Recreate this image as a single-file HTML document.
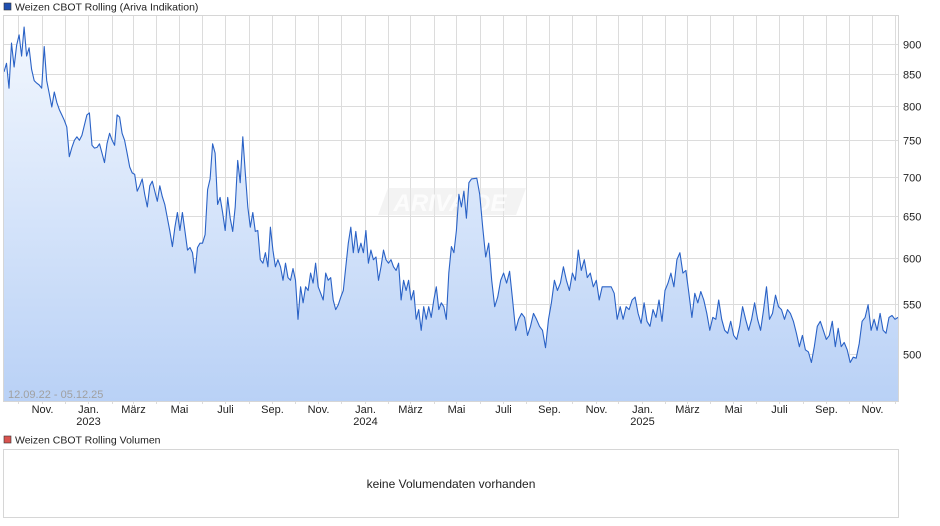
<!DOCTYPE html>
<html><head><meta charset="utf-8"><style>
body{margin:0;background:#fff;font-family:"Liberation Sans",sans-serif;}
svg{display:block}
</style></head><body>
<svg id="chart" width="940" height="526" xmlns="http://www.w3.org/2000/svg">
<defs>
<linearGradient id="fillg" x1="0" y1="0" x2="0" y2="1">
<stop offset="0" stop-color="#f2f7fe"/><stop offset="1" stop-color="#b9d1f6"/>
</linearGradient>
</defs>
<rect x="4" y="3" width="7" height="7" fill="#1f4fb0" stroke="#333" stroke-width="0.6"/>
<text x="15" y="10.5" font-size="10.5" fill="#222">Weizen CBOT Rolling (Ariva Indikation)</text>
<g id="grid"></g>
<g id="wm">
<path d="M388 188 L526 188 L516 215 L378 215 Z" fill="#e4e4e4" opacity="0.45"/>
<text x="450" y="211" font-size="24" font-style="italic" font-weight="bold" fill="#ffffff" opacity="0.8" text-anchor="middle">ARIVA.DE</text>
</g>
<g id="series"></g>
<rect x="3.5" y="15.5" width="895" height="386" fill="none" stroke="#d6d6d6"/>
<text x="8" y="398" font-size="11" fill="#a0a0a0">12.09.22 - 05.12.25</text>
<g id="axes"></g>
<rect x="4" y="436" width="7" height="7" fill="#d9534f" stroke="#333" stroke-width="0.6"/>
<text x="15" y="443.5" font-size="10.5" fill="#222">Weizen CBOT Rolling Volumen</text>
<rect x="3.5" y="449.5" width="895" height="68" fill="#fff" stroke="#d6d6d6"/>
<text x="451" y="488" font-size="12" fill="#222" text-anchor="middle">keine Volumendaten vorhanden</text>
</svg>
<script>
const seg1Start = "2022-09-12";
const seg1End = "2024-05-21";
const seg2Start = "2024-05-28";
const seg2End = "2025-12-05";
const values1 = [854,868,828,902,862,898,916,880,930,880,894,858,840,836,833,828,896,840,820,799,822,806,795,787,779,769,727,740,750,755,750,757,772,787,790,743,739,740,745,732,719,745,760,750,743,787,784,760,750,732,713,705,703,681,688,697,677,661,688,694,681,668,688,674,664,647,631,613,636,654,632,654,631,609,612,606,583,612,617,617,627,683,697,745,732,664,673,654,632,673,647,631,661,722,692,755,705,661,636,654,631,632,598,594,606,590,636,609,590,598,590,575,594,578,575,588,575,534,568,551,568,564,583,572,594,568,561,554,583,575,578,554,544,549,557,564,590,617,636,606,631,606,617,606,632,594,609,598,601,575,590,609,598,594,598,590,586,594,554,575,564,575,554,564,534,544,523,547,534,547,536,554,568,544,551,547,534,583,613,606,632,677,661,681,647,692,697];
const values2 = [698,677,636,601,617,575,547,557,575,583,572,585,554,523,534,540,536,518,527,540,534,527,523,506,534,551,575,564,572,590,575,564,583,575,609,586,598,578,583,568,575,554,568,568,568,568,561,534,547,534,547,544,554,557,540,530,551,532,527,544,536,554,532,564,572,583,568,598,606,583,586,561,536,561,551,563,554,540,523,536,534,554,534,523,520,532,518,514,527,547,534,523,534,551,534,523,544,568,534,540,559,547,544,534,544,540,532,520,507,518,504,502,492,507,527,532,523,514,518,532,507,525,507,511,504,492,497,496,510,532,536,549,523,534,523,540,523,520,536,538,534,536];
const yTicks = [500,550,600,650,700,750,800,850,900];
const monthNames = ["Jan.","Feb.","März","Apr.","Mai","Juni","Juli","Aug.","Sep.","Okt.","Nov.","Dez."];

const NS="http://www.w3.org/2000/svg";
const X0=4, X1=898, Y0=15, Y1=401;
const tStart=Date.parse("2022-09-12"), tEnd=Date.parse("2025-12-05");
function xScale(t){return X0+(t-tStart)/(tEnd-tStart)*(X1-X0);}
function yScale(v){return 354-527*Math.log(v/500);}
function mk(tag,attrs,parent){const e=document.createElementNS(NS,tag);for(const k in attrs)e.setAttribute(k,attrs[k]);parent.appendChild(e);return e;}

const grid=document.getElementById('grid'), axes=document.getElementById('axes'), series=document.getElementById('series');
mk('rect',{x:X0,y:Y0,width:X1-X0,height:Y1-Y0,fill:'#fff'},grid);
yTicks.forEach(v=>{
  const y=Math.round(yScale(v))+0.5;
  const l=mk('line',{x1:X0,x2:X1,y1:y,y2:y,stroke:'#dcdcdc'},grid);
  
  
  const t=mk('text',{x:903,y:y+4,'font-size':11,fill:'#222'},axes);
  t.textContent=v;
  
  
});
for(let yr=2022;yr<=2025;yr++){for(let m=0;m<12;m++){
  const t=Date.UTC(yr,m,1); if(t<tStart||t>tEnd)continue;
  const x=Math.round(xScale(t))+0.5;
  const l=mk('line',{x1:x,x2:x,y1:Y0,y2:Y1+3,stroke:'#dcdcdc'},grid);
  
  
  if(m%2===0){
    const tx=mk('text',{x:x,y:413,'font-size':11,fill:'#222','text-anchor':'middle'},axes);
    tx.textContent=monthNames[m];
    
    
    if(m===0){
      const ty=mk('text',{x:x,y:425,'font-size':11,fill:'#222','text-anchor':'middle'},axes);
      ty.textContent=yr;
      
      
    }
  }
}}
const pts=[];
function addSeg(vals,s,e){const a=Date.parse(s),b=Date.parse(e);vals.forEach((v,i)=>{const t=a+(b-a)*i/(vals.length-1);pts.push([xScale(t),yScale(v)]);});}
addSeg(values1,seg1Start,seg1End);
addSeg(values2,seg2Start,seg2End);
const d=pts.map((p,i)=>(i?'L':'M')+p[0].toFixed(1)+' '+p[1].toFixed(1)).join(' ');
const area=mk('path',{d:d+` L${pts[pts.length-1][0].toFixed(1)} ${Y1} L${pts[0][0].toFixed(1)} ${Y1} Z`,fill:'url(#fillg)'},series);


const line=mk('path',{d:d,fill:'none',stroke:'#2a62c6','stroke-width':1.1,'stroke-linejoin':'round'},series);


</script>
</body></html>
